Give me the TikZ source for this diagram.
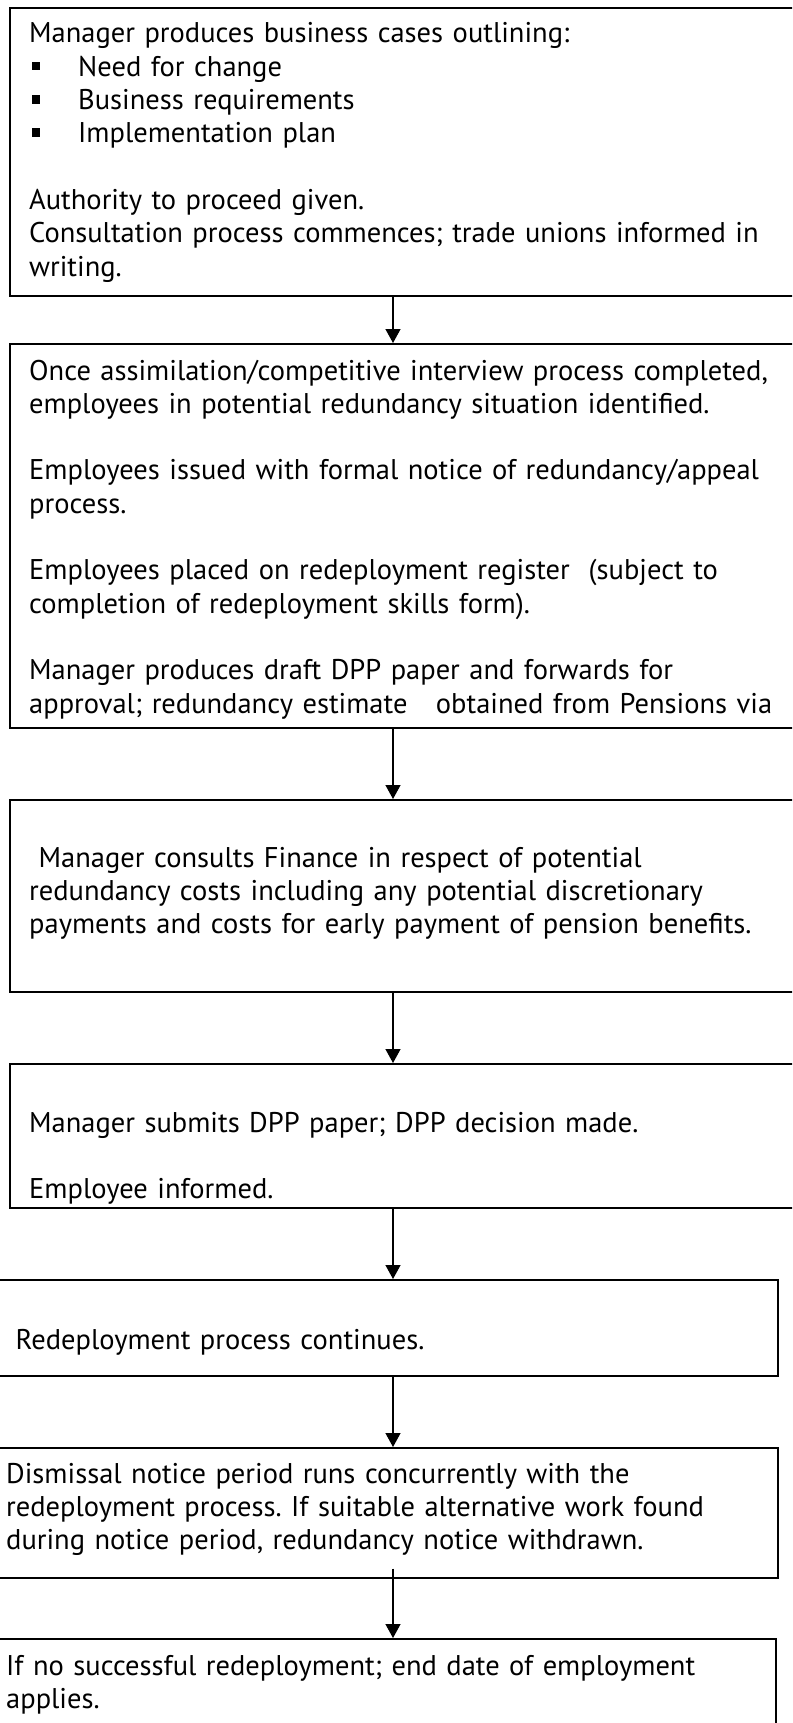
\documentclass[tikz,border=0pt]{standalone}
\usepackage{fontspec}
\setmainfont{PT Sans}
\usetikzlibrary{arrows.meta}
\frenchspacing
\begin{document}
\begin{tikzpicture}[x=1pt,y=-1pt,
  box/.style={draw, line width=1.6pt, inner sep=0pt, anchor=north west},
  txt/.style={anchor=base west, inner sep=0pt, text width=790pt, align=left,
    font=\fontsize{28.5}{33.3}\selectfont},
  arr/.style={line width=1.3pt, -{Triangle[width=15pt,length=14pt]}}]
\useasboundingbox (0,0) rectangle (792,1723);
\clip (0,0) rectangle (792,1723);
\fill[white] (0,0) rectangle (792,1723);

% process boxes
\node[box, minimum width=800pt, minimum height=288pt] (b1) at (9,7) {};
\node[box, minimum width=800pt, minimum height=384pt] (b2) at (9,343) {};
\node[box, minimum width=800pt, minimum height=192pt] (b3) at (9,799) {};
\node[box, minimum width=800pt, minimum height=144pt] (b4) at (9,1063) {};
\node[box, minimum width=787pt, minimum height=96pt]  (b5) at (-10,1279) {};
\node[box, minimum width=787pt, minimum height=130pt] (b6) at (-10,1447) {};
\node[box, minimum width=785pt, minimum height=120pt] (b7) at (-10,1638) {};

% box texts
\newcommand{\sqbullet}{\hspace*{3pt}\makebox[46pt][l]{\rule[6pt]{8pt}{8.5pt}}}
\node[txt] (t1) at (29,43) {Manager produces business cases outlining:\\
\sqbullet Need for change\\
\sqbullet Business requirements\\
\sqbullet Implementation plan\\[33.3pt]
Authority to proceed given.\\
Consultation process commences; trade unions informed in\\
writing.};

\node[txt] (t2) at (29,380) {Once assimilation/competitive interview process completed,\\
employees in potential redundancy situation identified.\\[33.3pt]
Employees issued with formal notice of redundancy/appeal\\
process.\\[33.3pt]
Employees placed on redeployment register\ \ (subject to\\
completion of redeployment skills form).\\[33.3pt]
Manager produces draft DPP paper and forwards for\\
approval; redundancy estimate\ \ \ obtained from Pensions via};

\node[txt] (t3) at (29,867) {\ Manager consults Finance in respect of potential\\
redundancy costs including any potential discretionary\\
payments and costs for early payment of pension benefits.};

\node[txt] (t4) at (29,1132) {Manager submits DPP paper; DPP decision made.\\[33.3pt]
Employee informed.};

\node[txt] (t5) at (6,1349) {\ Redeployment process continues.};

\node[txt] (t6) at (6,1483) {Dismissal notice period runs concurrently with the\\
redeployment process. If suitable alternative work found\\
during notice period, redundancy notice withdrawn.};

\node[txt] (t7) at (6,1675) {If no successful redeployment; end date of employment\\
applies.};

% connectors
\coordinate (ax) at (393,0);
\draw[arr] (b1.south -| ax) -- (b2.north -| ax);
\draw[arr] (b2.south -| ax) -- (b3.north -| ax);
\draw[arr] (b3.south -| ax) -- (b4.north -| ax);
\draw[arr] (b4.south -| ax) -- (b5.north -| ax);
\draw[arr] (b5.south -| ax) -- (b6.north -| ax);
\draw[arr] ([yshift=10pt]b6.south -| ax) -- (b7.north -| ax);
\end{tikzpicture}
\end{document}
